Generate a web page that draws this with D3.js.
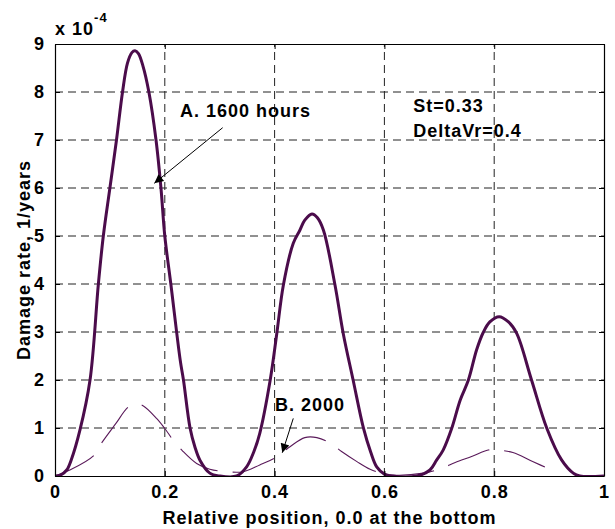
<!DOCTYPE html>
<html>
<head>
<meta charset="utf-8">
<script src="https://cdn.jsdelivr.net/npm/d3@7"></script>
<style>
  body { margin: 0; background: #fff; }
  text { font-family: "Liberation Sans", Arial, sans-serif; font-weight: bold; fill: #000; }
</style>
</head>
<body>
<svg id="chart" width="615" height="529"></svg>
<script>
// Courbe A : 1600 heures (trait épais)
const curveA_x = [0, 0.01, 0.0213, 0.03, 0.0455, 0.0638, 0.079, 0.088, 0.1, 0.112, 0.123, 0.132, 0.14, 0.1457, 0.152, 0.16, 0.171, 0.184, 0.193, 0.2, 0.211, 0.228, 0.234, 0.246, 0.255, 0.264, 0.282, 0.3, 0.331, 0.349, 0.362, 0.373, 0.392, 0.404, 0.416, 0.434, 0.446, 0.455, 0.468, 0.478, 0.489, 0.51, 0.525, 0.543, 0.562, 0.575, 0.586, 0.6, 0.613, 0.659, 0.683, 0.695, 0.707, 0.7225, 0.738, 0.753, 0.768, 0.78, 0.792, 0.809, 0.826, 0.841, 0.868, 0.896, 0.923, 0.944, 0.956, 1.0]
const curveA_y = [0, 0.02, 0.125, 0.35, 0.96, 2.0, 4.0, 5.0, 6.0, 7.0, 8.0, 8.6, 8.82, 8.86, 8.8, 8.55, 8.0, 7.0, 6.0, 5.0, 4.0, 2.42, 2.0, 1.0, 0.6, 0.33, 0.06, 0.0, 0.0, 0.19, 0.5, 0.89, 2.0, 2.97, 3.98, 4.85, 5.12, 5.33, 5.46, 5.38, 5.12, 3.98, 2.97, 2.0, 0.99, 0.5, 0.19, 0.04, 0.0, 0.0, 0.125, 0.33, 0.54, 0.99, 1.58, 2.0, 2.63, 2.99, 3.21, 3.32, 3.21, 2.97, 2.0, 0.99, 0.33, 0.06, 0.0, 0.0]

// Courbe B : 2000 heures (trait fin, tirets)
const curveB_x = [0, 0.027, 0.07, 0.085, 0.11, 0.134, 0.148, 0.161, 0.185, 0.2, 0.215, 0.2325, 0.258, 0.282, 0.304, 0.343, 0.373, 0.404, 0.428, 0.455, 0.477, 0.501, 0.522, 0.55, 0.574, 0.592, 0.616, 0.671, 0.704, 0.729, 0.76, 0.789, 0.8045, 0.834, 0.87, 0.908]
const curveB_y = [0, 0.125, 0.42, 0.69, 1.08, 1.44, 1.5, 1.46, 1.2, 0.99, 0.75, 0.52, 0.26, 0.14, 0.1, 0.09, 0.23, 0.4, 0.61, 0.8, 0.8, 0.69, 0.51, 0.3, 0.14, 0.07, 0.02, 0.06, 0.16, 0.28, 0.41, 0.54, 0.54, 0.49, 0.3, 0.11]

// Graduations
const xTicks = [0, 0.2, 0.4, 0.6, 0.8, 1]
const xTickLabels = ['0', '0.2', '0.4', '0.6', '0.8', '1']
const yTicks = [0, 1, 2, 3, 4, 5, 6, 7, 8, 9]

// Annotations (coordonnées en unités de données)
const labelA = { text: 'A. 1600 hours', x: 0.2277, y: 7.47 }
const arrowA = [[0.3054, 7.256], [0.1809, 6.098]]
const labelB = { text: 'B. 2000', x: 0.4007, y: 1.36 }
const arrowB = [[0.434, 1.20], [0.414, 0.485]]
const params = [{ text: 'St=0.33', x: 0.6526, y: 7.59 }, { text: 'DeltaVr=0.4', x: 0.6526, y: 7.07 }]

//Constantes de mise en page
const plotLeft = 55, plotRight = 604, plotTop = 44, plotBottom = 476
const lineColor = '#4b0c4b'
const fontSize = 18
const spacing = 1

const svg = d3.select('#chart')

const x = d3.scaleLinear().domain([0, 1]).range([plotLeft, plotRight])
const y = d3.scaleLinear().domain([0, 9]).range([plotBottom, plotTop])

//Grille pointillée
const grid = svg.append('g').attr('class', 'grid')
grid.selectAll('line.vgrid')
  .data(xTicks.slice(1, -1))
  .enter().append('line')
  .attr('x1', d => x(d)).attr('x2', d => x(d))
  .attr('y1', plotBottom).attr('y2', plotTop)
  .attr('stroke', '#222').attr('stroke-width', 1)
  .attr('stroke-dasharray', '8,5')
grid.selectAll('line.hgrid')
  .data(yTicks.slice(1, -1))
  .enter().append('line')
  .attr('x1', plotLeft).attr('x2', plotRight)
  .attr('y1', d => y(d)).attr('y2', d => y(d))
  .attr('stroke', '#222').attr('stroke-width', 1)
  .attr('stroke-dasharray', '8,5')

//Zone de découpe
svg.append('clipPath').attr('id', 'clip')
  .append('rect').attr('x', plotLeft).attr('y', plotTop - 2).attr('width', plotRight - plotLeft).attr('height', plotBottom - plotTop + 2)

const line = d3.line()
  .x(d => x(d[0]))
  .y(d => y(d[1]))
  .curve(d3.curveCatmullRom.alpha(0.5))

const dataA = curveA_x.map((v, i) => [v, curveA_y[i]])
const dataB = curveB_x.map((v, i) => [v, curveB_y[i]])

const plot = svg.append('g').attr('clip-path', 'url(#clip)')
plot.append('path')
  .datum(dataB)
  .attr('d', line)
  .attr('fill', 'none')
  .attr('stroke', '#5a1a5a')
  .attr('stroke-width', 1.1)
  .attr('stroke-dasharray', '44,15')
plot.append('path')
  .datum(dataA)
  .attr('d', line)
  .attr('fill', 'none')
  .attr('stroke', lineColor)
  .attr('stroke-width', 3)
  .attr('stroke-linejoin', 'round')

//Axes avec graduations vers l'intérieur
const fmt = d => xTickLabels[xTicks.indexOf(d)]
svg.append('g')
  .attr('transform', 'translate(0,' + plotBottom + ')')
  .call(d3.axisBottom(x).tickValues(xTicks).tickFormat(fmt).tickSizeInner(-5).tickSizeOuter(0).tickPadding(9))
svg.append('g')
  .attr('transform', 'translate(0,' + plotTop + ')')
  .call(d3.axisTop(x).tickValues(xTicks).tickFormat('').tickSizeInner(-5).tickSizeOuter(0))
svg.append('g')
  .attr('transform', 'translate(' + plotLeft + ',0)')
  .call(d3.axisLeft(y).tickValues(yTicks).tickFormat(d3.format('d')).tickSizeInner(-5).tickSizeOuter(0).tickPadding(10))
svg.append('g')
  .attr('transform', 'translate(' + plotRight + ',0)')
  .call(d3.axisRight(y).tickValues(yTicks).tickFormat('').tickSizeInner(-5).tickSizeOuter(0))

svg.selectAll('.domain').attr('stroke', '#000').attr('stroke-width', 1.2)
svg.selectAll('.tick line').attr('stroke', '#000')
svg.selectAll('.tick text')
  .style('font-family', '"Liberation Sans", Arial, sans-serif')
  .style('font-weight', 'bold')
  .style('font-size', fontSize + 'px')
  .style('letter-spacing', spacing + 'px')

//Multiplicateur d'échelle
const mult = svg.append('text').attr('x', plotLeft).attr('y', 35)
  .style('font-size', '18px').style('letter-spacing', '1px')
mult.append('tspan').text('x 10')
mult.append('tspan').attr('dy', -13).style('font-size', '13px').text('-4')

//Titres des axes
svg.append('text')
  .attr('x', (plotLeft + plotRight) / 2).attr('y', 524)
  .attr('text-anchor', 'middle')
  .style('font-size', fontSize + 'px').style('letter-spacing', spacing + 'px')
  .text('Relative position, 0.0 at the bottom')
svg.append('text')
  .attr('transform', 'translate(30,' + ((plotTop + plotBottom) / 2) + ') rotate(-90)')
  .attr('text-anchor', 'middle')
  .style('font-size', fontSize + 'px').style('letter-spacing', spacing + 'px')
  .text('Damage rate, 1/years')

//Annotations et flèches
svg.append('defs').append('marker')
  .attr('id', 'head').attr('viewBox', '0 0 10 10')
  .attr('refX', 10).attr('refY', 5)
  .attr('markerWidth', 12).attr('markerHeight', 9)
  .attr('markerUnits', 'userSpaceOnUse')
  .attr('orient', 'auto')
  .append('path').attr('d', 'M0,0 L10,5 L0,10 z').attr('fill', '#000')

const labels = [labelA, labelB].concat(params)
svg.selectAll('text.note')
  .data(labels)
  .enter().append('text')
  .attr('class', 'note')
  .attr('x', d => x(d.x)).attr('y', d => y(d.y))
  .style('font-size', fontSize + 'px').style('letter-spacing', spacing + 'px')
  .text(d => d.text)

svg.selectAll('line.arrow')
  .data([arrowA, arrowB])
  .enter().append('line')
  .attr('class', 'arrow')
  .attr('x1', d => x(d[0][0])).attr('y1', d => y(d[0][1]))
  .attr('x2', d => x(d[1][0])).attr('y2', d => y(d[1][1]))
  .attr('stroke', '#000').attr('stroke-width', 1)
  .attr('marker-end', 'url(#head)')
</script>
</body>
</html>
